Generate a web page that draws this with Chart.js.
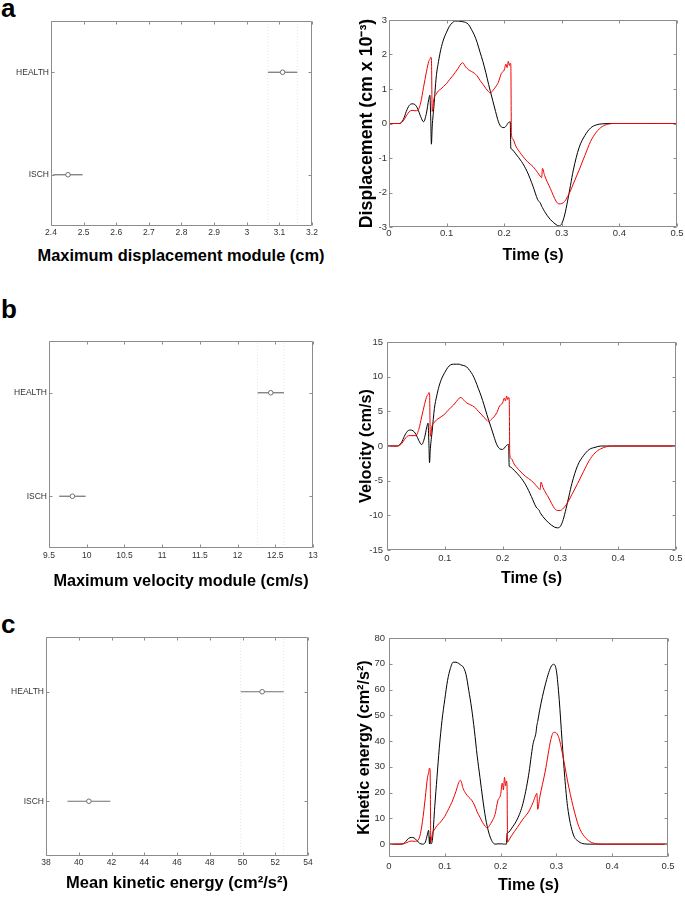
<!DOCTYPE html>
<html>
<head>
<meta charset="utf-8">
<script src="https://cdn.jsdelivr.net/npm/chart.js@4.4.1/dist/chart.umd.min.js"></script>
<style>
  body { margin: 0; width: 685px; height: 897px; background: #fff; position: relative; overflow: hidden;
         font-family: "Liberation Sans", Arial, sans-serif; }
  canvas { position: absolute; }
  .tag { position: absolute; left: 1px; font-weight: bold; font-size: 26px; line-height: 1; color: #000; }
  .xt { position: absolute; font-weight: bold; font-size: 16.4px; line-height: 20px; color: #000;
        text-align: center; white-space: nowrap; }
</style>
</head>
<body>
<div class="tag" style="top:-5px">a</div>
<div class="tag" style="top:296px">b</div>
<div class="tag" style="top:611px">c</div>
<div class="xt" style="left:21px; width:320px; top:245px">Maximum displacement module (cm)</div>
<canvas id="dispGroups"></canvas>
<canvas id="dispTime"></canvas>
<canvas id="velGroups"></canvas>
<canvas id="velTime"></canvas>
<canvas id="keGroups"></canvas>
<canvas id="keTime"></canvas>
<script>
// groups (left column): mean and half-width of the comparison interval
const groups = ['ISCH', 'HEALTH'];
const groupPos = [1, 2];
const dispMeans = [2.452, 3.11];
const dispHalf = [0.045, 0.045];
const velMeans = [9.81, 12.44];
const velHalf = [0.175, 0.175];
const keMeans = [40.62, 51.2];
const keHalf = [1.31, 1.31];

const dispGroupTicks = [2.4, 2.5, 2.6, 2.7, 2.8, 2.9, 3, 3.1, 3.2];
const velGroupTicks = [9.5, 10, 10.5, 11, 11.5, 12, 12.5, 13];
const keGroupTicks = [38, 40, 42, 44, 46, 48, 50, 52, 54];

// time curves (right column), black = health, red = ischemic
const timeS = [0, 0.01, 0.018, 0.025, 0.03, 0.035, 0.04, 0.045, 0.05, 0.055,
  0.06, 0.065, 0.069, 0.071, 0.0725, 0.0736, 0.075, 0.078, 0.082, 0.086,
  0.09, 0.095, 0.1, 0.105, 0.11, 0.115, 0.12, 0.125, 0.128, 0.133,
  0.138, 0.143, 0.148, 0.153, 0.158, 0.163, 0.168, 0.173, 0.176, 0.18,
  0.185, 0.19, 0.195, 0.2, 0.203, 0.205, 0.207, 0.209, 0.2105, 0.2115,
  0.2125, 0.215, 0.22, 0.23, 0.24, 0.25, 0.258, 0.2635, 0.265, 0.2665,
  0.27, 0.28, 0.29, 0.295, 0.3, 0.305, 0.31, 0.315, 0.32, 0.33,
  0.34, 0.35, 0.36, 0.37, 0.38, 0.39, 0.45, 0.5];

const dispBlack = [0, 0, 0, 0.12, 0.35, 0.52, 0.57, 0.55, 0.42, 0.2,
  0.05, 0.3, 0.7, 0.82, 0.1, -0.6, -0.1, 0.5, 1.35, 1.8,
  2.15, 2.45, 2.65, 2.82, 2.92, 2.97, 2.97, 2.96, 2.95, 2.93,
  2.87, 2.73, 2.57, 2.35, 2.07, 1.8, 1.48, 1.13, 0.93, 0.67,
  0.35, 0.05, -0.1, -0.12, -0.08, -0.03, 0.02, 0.04, 0.05, -0.72,
  -0.74, -0.77, -0.88, -1.1, -1.4, -1.82, -2.2, -2.33, -2.4, -2.44,
  -2.55, -2.78, -2.93, -2.97, -2.9, -2.65, -2.25, -1.8, -1.35, -0.7,
  -0.35, -0.13, -0.04, -0.01, 0, 0, 0, 0];
const dispRed = [0, 0, 0, 0.08, 0.22, 0.34, 0.38, 0.37, 0.38, 0.6,
  1.05, 1.5, 1.8, 1.86, 1.92, 1.9, 0.35, 0.72, 0.85, 0.95,
  1.0, 1.08, 1.16, 1.27, 1.37, 1.48, 1.6, 1.73, 1.76, 1.64,
  1.56, 1.51, 1.46, 1.38, 1.25, 1.14, 1.02, 0.92, 0.88, 0.95,
  1.06, 1.2, 1.45, 1.55, 1.72, 1.62, 1.8, 1.68, 1.75, 1.7,
  -0.3, -0.45, -0.65, -0.9, -1.1, -1.25, -1.42, -1.55, -1.57, -1.3,
  -1.5, -1.88, -2.25, -2.33, -2.32, -2.26, -2.12, -1.95, -1.75, -1.35,
  -0.93, -0.52, -0.25, -0.09, -0.02, 0, 0, 0];

const velBlack = [0, 0, 0, 0.5, 1.4, 2.1, 2.3, 2.2, 1.7, 0.8,
  0.2, 1.2, 2.8, 3.3, 0.4, -2.4, -0.4, 2.0, 5.4, 7.2,
  8.6, 9.8, 10.6, 11.3, 11.7, 11.8, 11.8, 11.8, 11.7, 11.6,
  11.4, 10.9, 10.3, 9.4, 8.3, 7.2, 5.9, 4.5, 3.7, 2.7,
  1.4, 0.2, -0.4, -0.5, -0.3, -0.1, 0.1, 0.2, 0.2, -2.9,
  -3.0, -3.1, -3.5, -4.4, -5.6, -7.3, -8.8, -9.3, -9.6, -9.8,
  -10.2, -11.1, -11.7, -11.8, -11.6, -10.6, -9.0, -7.2, -5.4, -2.8,
  -1.4, -0.5, -0.2, 0, 0, 0, 0, 0];
const velRed = [0, 0, 0, 0.3, 0.9, 1.4, 1.5, 1.5, 1.5, 2.4,
  4.2, 6.0, 7.2, 7.4, 7.7, 7.6, 1.4, 2.9, 3.4, 3.8,
  4.0, 4.3, 4.6, 5.1, 5.5, 5.9, 6.4, 6.9, 7.0, 6.6,
  6.2, 6.0, 5.8, 5.5, 5.0, 4.6, 4.1, 3.7, 3.5, 3.8,
  4.2, 4.8, 5.8, 6.2, 6.9, 6.5, 7.2, 6.7, 7.0, 6.8,
  -1.2, -1.8, -2.6, -3.6, -4.4, -5.0, -5.7, -6.2, -6.3, -5.2,
  -6.0, -7.5, -9.0, -9.3, -9.3, -9.0, -8.5, -7.8, -7.0, -5.4,
  -3.7, -2.1, -1.0, -0.4, -0.1, 0, 0, 0];

const keBlack = [0, 0, 0, 0.1, 1.0, 2.2, 2.6, 2.4, 1.4, 0.3,
  0, 0.7, 3.9, 5.4, 0.1, 2.9, 0.1, 2.0, 14.6, 25.9,
  37.0, 48.0, 56.2, 63.6, 68.2, 70.6, 70.6, 70.1, 69.6, 68.7,
  65.9, 59.6, 52.8, 44.2, 34.3, 25.9, 17.5, 10.2, 6.9, 3.6,
  1.0, 0, 0.1, 0.1, 0.1, 0, 0, 0, 0, 4.1,
  4.4, 4.7, 6.2, 9.7, 15.7, 26.5, 38.7, 43.4, 46.1, 47.6,
  52.0, 61.8, 68.7, 69.8, 67.3, 56.2, 40.5, 25.9, 14.6, 3.9,
  1.0, 0.1, 0, 0, 0, 0, 0, 0];
const keRed = [0, 0, 0, 0.1, 0.4, 0.9, 1.2, 1.1, 1.2, 2.9,
  8.8, 18.0, 25.9, 27.7, 29.5, 28.9, 1.0, 4.2, 5.8, 7.2,
  8.0, 9.3, 10.8, 12.9, 15.0, 17.5, 20.5, 23.9, 24.8, 21.5,
  19.5, 18.2, 17.1, 15.2, 12.5, 10.4, 8.3, 6.8, 6.2, 7.2,
  9.0, 11.5, 16.8, 19.2, 23.7, 21.0, 25.9, 22.6, 24.5, 23.1,
  0.7, 1.6, 3.4, 6.5, 9.7, 12.5, 16.1, 19.2, 19.7, 13.5,
  18.0, 28.3, 40.5, 43.4, 43.1, 40.9, 36.0, 30.4, 24.5, 14.6,
  6.9, 3.0, 1.0, 0.2, 0, 0, 0, 0];

const timeTicks = [0, 0.1, 0.2, 0.3, 0.4, 0.5];
const dispTicks = [-3, -2, -1, 0, 1, 2, 3];
const velTicks = [-15, -10, -5, 0, 5, 10, 15];
const keTicks = [0, 10, 20, 30, 40, 50, 60, 70, 80];

// page layout: canvas box and plot rectangle [left, top, right, bottom] in page pixels
const layout = {
  dispGroups: { left: 0, top: 0, w: 340, h: 265, plot: [51, 21, 312, 226], xPad: 2, yPad: 2, titleSize: 16.4 },
  dispTime:   { left: 356, top: 0, w: 329, h: 265, plot: [389, 20, 677, 227], xPad: 1, yPad: 2, titleSize: 16, yTitleSize: 17.8 },
  velGroups:  { left: 0, top: 300, w: 340, h: 291, plot: [49, 341, 313, 548], xPad: 3, yPad: 2, titleSize: 16.3 },
  velTime:    { left: 357, top: 300, w: 328, h: 288, plot: [387, 342, 676, 550], xPad: 2.5, yPad: 4, titleSize: 16, yTitleSize: 16.3 },
  keGroups:   { left: 0, top: 590, w: 340, h: 303, plot: [46, 637, 308, 856], xPad: 2, yPad: 2, titleSize: 16.5 },
  keTime:     { left: 355, top: 590, w: 330, h: 305, plot: [389, 638, 668, 857], xPad: 3.5, yPad: 4, titleSize: 16, yTitleSize: 16.2 }
};

const FONT = '"Liberation Sans", Arial, Helvetica, sans-serif';
const titleFont = size => ({ family: FONT, size, weight: 'bold', lineHeight: 1.2 });

// MATLAB style box with inward ticks on all four sides
const boxTicks = {
  id: 'boxTicks',
  afterDatasetsDraw(chart) {
    const { ctx, chartArea: a, scales } = chart;
    const len = 3;
    const l = Math.round(a.left) + 0.5, r = Math.round(a.right) - 0.5;
    const t = Math.round(a.top) + 0.5, b = Math.round(a.bottom) - 0.5;
    ctx.save();
    ctx.strokeStyle = '#8c8c8c';
    ctx.lineWidth = 1;
    ctx.beginPath();
    scales.x.ticks.forEach(tk => {
      const px = Math.round(scales.x.getPixelForValue(tk.value)) + 0.5;
      ctx.moveTo(px, b); ctx.lineTo(px, b - len);
      ctx.moveTo(px, t); ctx.lineTo(px, t + len);
    });
    scales.y.ticks.forEach(tk => {
      const py = Math.round(scales.y.getPixelForValue(tk.value)) + 0.5;
      ctx.moveTo(l, py); ctx.lineTo(l + len, py);
      ctx.moveTo(r, py); ctx.lineTo(r - len, py);
    });
    ctx.rect(l, t, r - l, b - t);
    ctx.stroke();
    ctx.restore();
  }
};

function setupCanvas(id) {
  const g = layout[id];
  const c = document.getElementById(id);
  c.width = g.w; c.height = g.h;
  c.style.left = g.left + 'px'; c.style.top = g.top + 'px';
  c.style.width = g.w + 'px'; c.style.height = g.h + 'px';
  return c;
}

function axisSet(id, xTicks, yTicks, xMin, xMax, yMin, yMax, xTitle, yTitle, tickSize, yLabel) {
  const g = layout[id];
  const tickFont = { family: FONT, size: tickSize, lineHeight: 1.2 };
  return {
    x: {
      type: 'linear', min: xMin, max: xMax,
      afterBuildTicks: s => { s.ticks = xTicks.map(v => ({ value: v })); },
      afterFit: s => { s.height = g.top + g.h - g.plot[3]; },
      ticks: { font: tickFont, color: '#333', padding: g.xPad, maxRotation: 0, autoSkip: false,
               callback: v => String(v) },
      grid: { display: false, drawTicks: false },
      border: { display: false },
      // a title wider than the plot is set as page text instead (canvas would squeeze it)
      title: { display: !!xTitle, text: xTitle || '', font: titleFont(g.titleSize), color: '#000', padding: 0 }
    },
    y: {
      type: 'linear', min: yMin, max: yMax,
      afterBuildTicks: s => { s.ticks = yTicks.map(v => ({ value: v })); },
      afterFit: s => { s.width = g.plot[0] - g.left; },
      ticks: { font: tickFont, color: '#333', padding: g.yPad, autoSkip: false,
               callback: yLabel || (v => String(v)) },
      grid: { display: false, drawTicks: false },
      border: { display: false },
      title: { display: !!yTitle, text: yTitle || '', font: titleFont(g.yTitleSize || 16), color: '#000', padding: 0 }
    }
  };
}

function baseOptions(id, scales) {
  const g = layout[id];
  return {
    responsive: false,
    animation: false,
    devicePixelRatio: 1,
    layout: { padding: { left: 0, top: g.plot[1] - g.top, right: g.left + g.w - g.plot[2], bottom: 0 } },
    plugins: { legend: { display: false }, tooltip: { enabled: false } },
    events: [],
    scales
  };
}

function groupChart(id, means, half, xTicks, xTitle) {
  const canvas = setupCanvas(id);
  const datasets = [];
  // mean markers
  datasets.push({
    data: groupPos.map((p, i) => ({ x: means[i], y: p })),
    showLine: false, pointRadius: 2.3, pointBorderWidth: 1,
    pointBorderColor: '#6f6f6f', pointBackgroundColor: '#fff'
  });
  // interval bars
  groupPos.forEach((p, i) => {
    datasets.push({
      data: [{ x: means[i] - half[i], y: p }, { x: means[i] + half[i], y: p }],
      showLine: true, pointRadius: 0, borderColor: '#6f6f6f', borderWidth: 1.2
    });
  });
  // faint dotted guides at the HEALTH interval limits
  const h = groups.indexOf('HEALTH');
  [means[h] - half[h], means[h] + half[h]].forEach(x => {
    datasets.push({
      data: [{ x, y: 0.5 }, { x, y: 2.5 }],
      showLine: true, pointRadius: 0, borderColor: '#e6e6e6', borderWidth: 1, borderDash: [1, 2]
    });
  });
  const scales = axisSet(id, xTicks, groupPos, xTicks[0], xTicks[xTicks.length - 1], 0.5, 2.5,
    xTitle, null, 8.5, v => groups[groupPos.indexOf(v)]);
  return new Chart(canvas, { type: 'scatter', data: { datasets }, options: baseOptions(id, scales), plugins: [boxTicks] });
}

function timeChart(id, blackVals, redVals, yTicks, yMin, yMax, yTitle) {
  const canvas = setupCanvas(id);
  const pts = vals => timeS.map((t, i) => ({ x: t, y: vals[i] }));
  const line = { showLine: true, pointRadius: 0, borderWidth: 1, cubicInterpolationMode: 'monotone' };
  const datasets = [
    Object.assign({ data: pts(redVals), borderColor: '#f00000' }, line),
    Object.assign({ data: pts(blackVals), borderColor: '#000' }, line)
  ];
  const scales = axisSet(id, timeTicks, yTicks, 0, 0.5, yMin, yMax, 'Time (s)', yTitle, 9.5);
  return new Chart(canvas, { type: 'scatter', data: { datasets }, options: baseOptions(id, scales), plugins: [boxTicks] });
}

groupChart('dispGroups', dispMeans, dispHalf, dispGroupTicks, null);
groupChart('velGroups', velMeans, velHalf, velGroupTicks, 'Maximum velocity module (cm/s)');
groupChart('keGroups', keMeans, keHalf, keGroupTicks, 'Mean kinetic energy (cm\u00b2/s\u00b2)');

timeChart('dispTime', dispBlack, dispRed, dispTicks, -3, 3, 'Displacement (cm x 10\u207b\u00b3)');
timeChart('velTime', velBlack, velRed, velTicks, -15, 15, 'Velocity (cm/s)');
timeChart('keTime', keBlack, keRed, keTicks, -5, 80, 'Kinetic energy (cm\u00b2/s\u00b2)');
</script>
</body>
</html>
